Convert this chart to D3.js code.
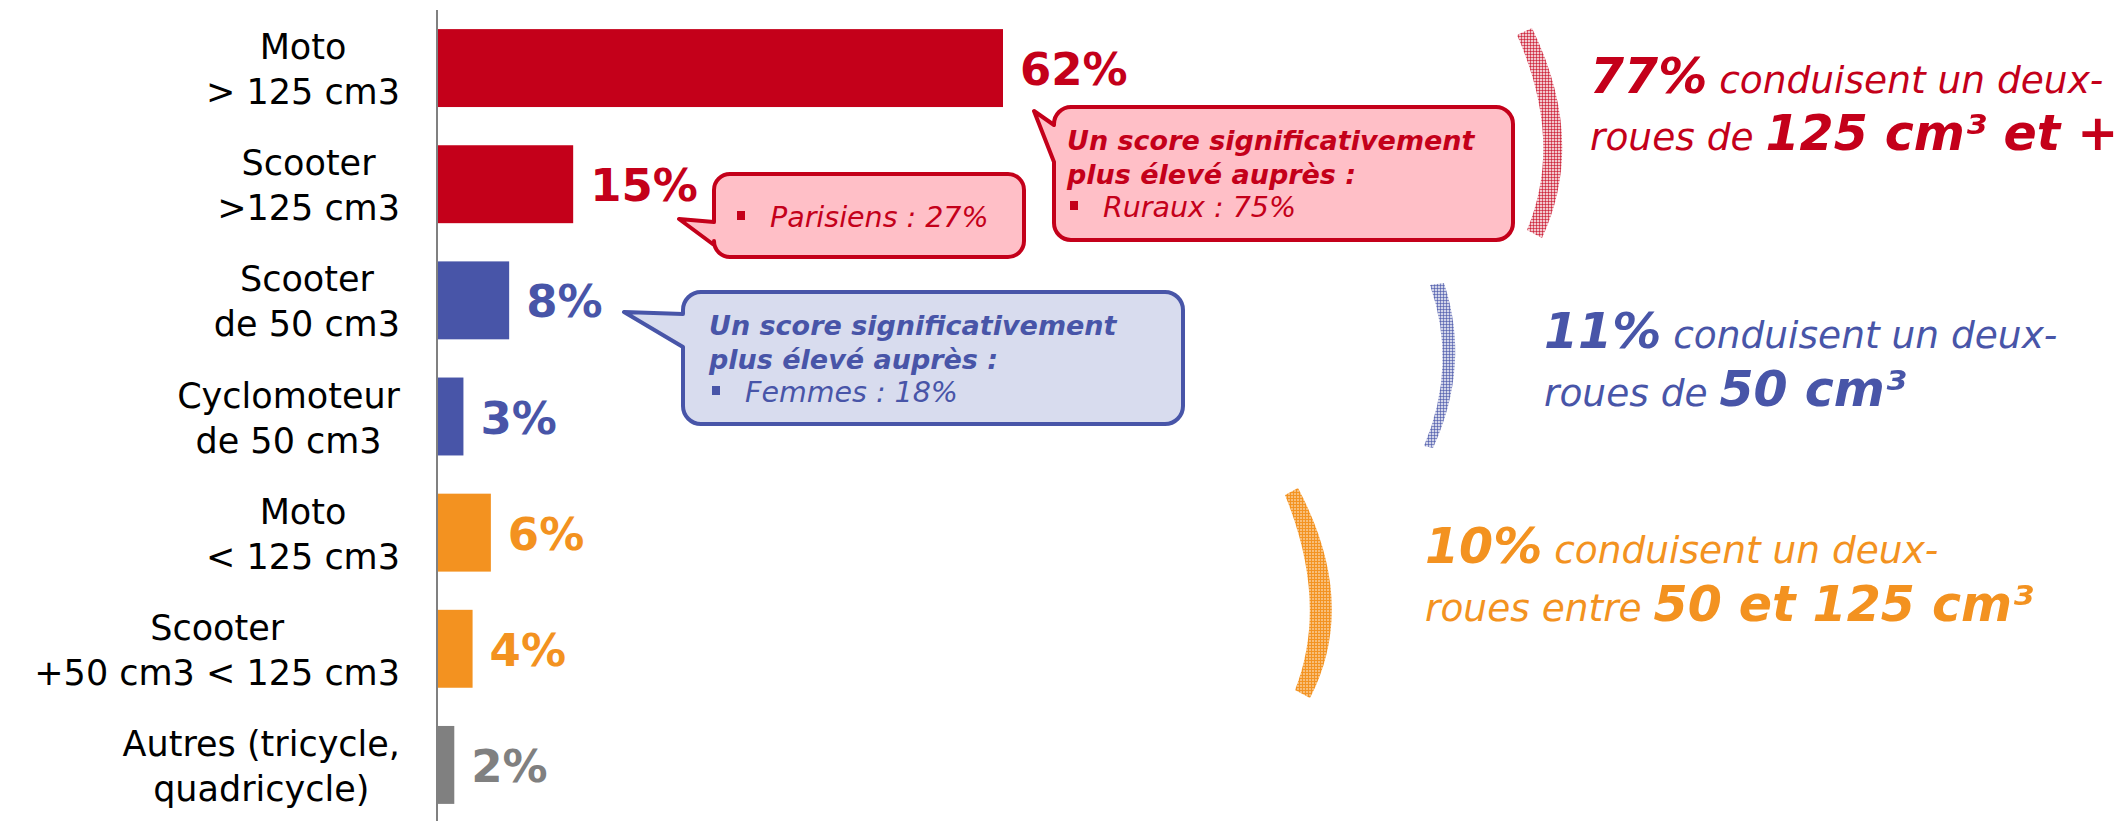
<!DOCTYPE html>
<html><head><meta charset="utf-8">
<script src="https://cdn.jsdelivr.net/npm/d3@7"></script>
<style>body{margin:0;background:#fff}svg{display:block}text{font-family:"DejaVu Sans",Verdana,sans-serif}</style>
</head><body>
<svg id="c" width="2119" height="821"></svg>
<script>
// ---- data ----
const categories = ["Moto > 125 cm3","Scooter >125 cm3","Scooter de 50 cm3","Cyclomoteur de 50 cm3","Moto < 125 cm3","Scooter +50 cm3 < 125 cm3","Autres (tricycle, quadricycle)"];
const labelLines = [["Moto","> 125 cm3"],["Scooter",">125 cm3"],["Scooter","de 50 cm3"],["Cyclomoteur","de 50 cm3"],["Moto","< 125 cm3"],["Scooter","+50 cm3 < 125 cm3"],["Autres (tricycle,","quadricycle)"]];
const values = [62,15,8,3,6,4,2];
const valueLabels = ["62%","15%","8%","3%","6%","4%","2%"];
const groupOf = ["red","red","blue","blue","orange","orange","gray"];
const colors = {red:"#C4001A", blue:"#4855A8", orange:"#F39220", gray:"#808080"};
const lightFill = {red:"#FFBFC7", blue:"#D8DCEE"};

const summaries = [
  {group:"red", line1:[["77%",true],[" conduisent un deux-",false]], line2:[["roues de ",false],["125 cm³ et +",true]]},
  {group:"blue", line1:[["11%",true],[" conduisent un deux-",false]], line2:[["roues de ",false],["50 cm³",true]]},
  {group:"orange", line1:[["10%",true],[" conduisent un deux-",false]], line2:[["roues entre ",false],["50 et 125 cm³",true]]}
];
const callouts = [
  {group:"red", title:[], bullet:"Parisiens : 27%"},
  {group:"red", title:["Un score significativement","plus élevé auprès :"], bullet:"Ruraux : 75%"},
  {group:"blue", title:["Un score significativement","plus élevé auprès :"], bullet:"Femmes : 18%"}
];

// ---- layout ----
const svg = d3.select("#c");
const x = d3.scaleLinear().domain([0,62]).range([436,1003]);
const y = d3.scaleBand().domain(categories).range([10,823]).paddingInner(0.329).paddingOuter(0.1645);
const bw = y.bandwidth();

// bars
svg.selectAll("rect.bar").data(values).join("rect").attr("class","bar")
  .attr("x",x(0)).attr("y",(d,i)=>y(categories[i]))
  .attr("width",d=>x(d)-x(0)).attr("height",bw)
  .attr("fill",(d,i)=>colors[groupOf[i]]);

// axis line
svg.append("line").attr("x1",437).attr("x2",437).attr("y1",10).attr("y2",821)
  .attr("stroke","#808080").attr("stroke-width",2);

// value labels
svg.selectAll("text.val").data(values).join("text").attr("class","val")
  .attr("x",d=>x(d)+17).attr("y",(d,i)=>y(categories[i])+bw/2+17)
  .attr("font-size",45).attr("font-weight","bold")
  .attr("fill",(d,i)=>colors[groupOf[i]]).text((d,i)=>valueLabels[i]);

// category labels (centered block, right edge at 400)
categories.forEach((c,i)=>{
  const cy = y(c)+bw/2;
  const g = svg.append("g");
  const ts = labelLines[i].map((l,k)=> g.append("text").attr("font-size",35).attr("fill","#000")
      .attr("text-anchor","middle").attr("y",cy-9+k*45).text(l));
  const w = d3.max(ts, t=>t.node().getComputedTextLength());
  ts.forEach(t=>t.attr("x",400-w/2));
});

// patterns for brackets
const defs = svg.append("defs");
const hatchOp = {red:[0.22,0.55], blue:[0.25,0.6], orange:[0.6,0.95]};
["red","blue","orange"].forEach(g=>{
  const p = defs.append("pattern").attr("id","hatch-"+g).attr("patternUnits","userSpaceOnUse").attr("width",3).attr("height",3);
  p.append("rect").attr("width",3).attr("height",3).attr("fill",colors[g]).attr("fill-opacity",hatchOp[g][0]);
  p.append("rect").attr("width",3).attr("height",1).attr("fill",colors[g]).attr("fill-opacity",hatchOp[g][1]);
  p.append("rect").attr("width",1).attr("height",3).attr("fill",colors[g]).attr("fill-opacity",hatchOp[g][1]);
});
const brackets = [
  {group:"red", outer:[[1532,28],[1587,141],[1542,238]], inner:[[1527,230],[1564,141],[1517,35]]},
  {group:"blue", outer:[[1444,283],[1471,365],[1433,448]], inner:[[1424,446],[1458,365],[1430,285]]},
  {group:"orange", outer:[[1298,488],[1359,603],[1310,698]], inner:[[1295,690],[1329,603],[1285,495]]}
];
brackets.forEach(b=>{
  const o=b.outer, n=b.inner;
  const d = `M${o[0]}Q${o[1]} ${o[2]}L${n[0]}Q${n[1]} ${n[2]}Z`;
  svg.append("path").attr("d",d).attr("fill",`url(#hatch-${b.group})`);
});

// callouts
function calloutPath(x0,y0,x1,y1,r,tip,a1,a2){
  return `M${x0+r},${y0}H${x1-r}A${r},${r} 0 0 1 ${x1},${y0+r}V${y1-r}A${r},${r} 0 0 1 ${x1-r},${y1}`+
    `H${x0+r}A${r},${r} 0 0 1 ${x0},${y1-r}V${a2}L${tip[0]},${tip[1]}L${x0},${a1}V${y0+r}A${r},${r} 0 0 1 ${x0+r},${y0}Z`;
}
const calloutBoxes = [
  {x0:714,y0:174,x1:1024,y1:257,r:16,tip:[679,219],a1:222,a2:245, tx:709, base:227},
  {x0:1054,y0:107,x1:1513,y1:240,r:17,tip:[1034,111],a1:125,a2:162, tx:1067, base:150},
  {x0:683,y0:292,x1:1183,y1:424,r:18,tip:[624,312],a1:314,a2:347, tx:709, base:335}
];
callouts.forEach((c,i)=>{
  const b = calloutBoxes[i];
  const col = colors[c.group];
  svg.append("path").attr("d",calloutPath(b.x0,b.y0,b.x1,b.y1,b.r,b.tip,b.a1,b.a2))
    .attr("fill",lightFill[c.group]).attr("stroke",col).attr("stroke-width",4).attr("stroke-linejoin","round");
  let yy = b.base;
  c.title.forEach(t=>{
    svg.append("text").attr("x",b.tx).attr("y",yy).attr("font-size",27).attr("font-weight","bold")
      .attr("font-style","italic").attr("fill",col).text(t);
    yy += 33.5;
  });
  const bx = c.title.length ? b.tx+3 : b.tx+28;
  svg.append("rect").attr("x",bx).attr("y",yy-16).attr("width",8).attr("height",9).attr("fill",col);
  svg.append("text").attr("x",bx+33).attr("y",yy).attr("font-size",28.5).attr("font-style","italic")
    .attr("fill",col).text(c.bullet);
});

// summaries
const sumPos = [{x:1590,b1:93,b2:150},{x:1544,b1:348,b2:406},{x:1425,b1:563,b2:621}];
summaries.forEach((s,i)=>{
  const p = sumPos[i];
  [[s.line1,p.b1],[s.line2,p.b2]].forEach(([parts,base])=>{
    const t = svg.append("text").attr("x",p.x).attr("y",base).attr("fill",colors[s.group]).attr("font-style","italic");
    parts.forEach(([txt,big])=>{
      t.append("tspan").attr("font-size",big?49:37.5).attr("font-weight",big?"bold":"normal").text(txt);
    });
  });
});
</script>
</body></html>
